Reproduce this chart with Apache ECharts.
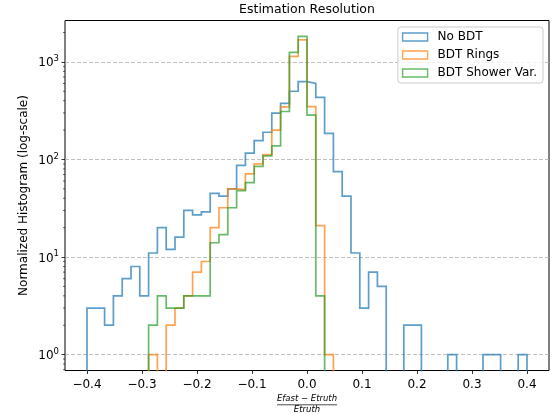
<!DOCTYPE html>
<html><head><meta charset="utf-8">
<script src="https://cdn.jsdelivr.net/npm/echarts@6/dist/echarts.min.js"></script>
<style>html,body{margin:0;padding:0;background:#fff}#c{width:554px;height:414px}</style>
</head><body><div id="c"></div>
<script>
// ---- data ----
const binRange = [-0.4, 0.4];
const binCount = 50;
const seriesNames = ['No BDT', 'BDT Rings', 'BDT Shower Var.'];
const noBDT = [3,3,2,4,6,8,4,11,20,12, 16,30,27,29,45,42,50,87,116,156, 190,298,375,500,627,600,432,185,75,42, 11,3,7,5,0,0,2,2,0,0, 0,1,0,0,0,1,1,0,0,1];
const bdtRings = [0,0,0,0,0,0,0,1,0,2, 3,4,7,9,20,32,50,49,71,90, 112,200,345,1140,1680,348,21,1,0,0, 0,0,0,0,0,0,0,0,0,0, 0,0,0,0,0,0,0,0,0,0];
const bdtShower = [0,0,0,0,0,0,0,2,4,3, 3,4,4,4,14,17,32,48,58,85, 109,138,310,1254,1825,284,4,0,0,0, 0,0,0,0,0,0,0,0,0,0, 0,0,0,0,0,0,0,0,0,0];
const xTickRange = [-0.4, 0.4];
const xTickStep = 0.1;
const yMajorRange = [1, 1000];
const yMinorTicks = [0.7,0.8,0.9, 2,3,4,5,6,7,8,9, 20,30,40,50,60,70,80,90, 200,300,400,500,600,700,800,900, 2000];
const titleText = 'Estimation Resolution';
const yLabel = 'Normalized Histogram (log-scale)';
const xLabelNum = 'Efast \u2212 Etruth';
const xLabelDen = 'Etruth';

// ---- layout ----
const W = 554, H = 414;
const G = {left: 65, right: 5, top: 20.5, bottom: 43.5};
const gw = W - G.left - G.right, gh = H - G.top - G.bottom;
const xMin = -0.44, xMax = 0.44;
const lyMin = -0.163, lyMax = 3.424;
const yMin = Math.pow(10, lyMin), yMax = Math.pow(10, lyMax);
const yPix = v => G.top + gh * (lyMax - Math.log10(v)) / (lyMax - lyMin);
const xPix = v => G.left + gw * (v - xMin) / (xMax - xMin);
const colors = ['rgba(31,119,180,0.72)', 'rgba(255,127,14,0.72)', 'rgba(44,160,44,0.72)'];
const FONT = 'DejaVu Sans';
const cx = G.left + gw / 2;

function stepPoints(vals) {
  const w = (binRange[1] - binRange[0]) / binCount;
  const floor = 1e-3;
  const pts = [[binRange[0], floor]];
  vals.forEach((v, i) => {
    const y = v > 0 ? v : floor;
    const x0 = binRange[0] + i * w, x1 = binRange[0] + (i + 1) * w;
    pts.push([x0, y], [x1, y]);
  });
  pts.push([binRange[1], floor]);
  return pts;
}

const histData = [noBDT, bdtRings, bdtShower];
const chart = echarts.init(document.getElementById('c'), null, {renderer: 'canvas'});
const fmtX = v => { const r = Math.round(v * 10) / 10; const s = Math.abs(r).toFixed(1); return r < 0 ? '\u2212' + s : s; };

const option = {
  animation: false,
  backgroundColor: '#fff',
  textStyle: {fontFamily: FONT},
  title: {text: titleText, left: cx, textAlign: 'center', top: 3, padding: 0,
    textStyle: {fontFamily: FONT, fontSize: 12.5, fontWeight: 'normal', color: '#000'}},
  legend: {
    orient: 'vertical', right: 11, top: 27,
    padding: [3, 6, 3, 4], itemGap: 4, itemWidth: 25, itemHeight: 8,
    backgroundColor: 'rgba(255,255,255,0.8)', borderColor: '#cccccc', borderWidth: 1, borderRadius: 3,
    textStyle: {fontFamily: FONT, fontSize: 12, color: '#000', lineHeight: 14, padding: [0, 0, 0, 5]},
    data: seriesNames.map((n, i) => ({name: n, icon: 'rect',
      itemStyle: {color: 'rgba(0,0,0,0)', borderColor: colors[i], borderWidth: 1.4}}))
  },
  grid: [
    {left: G.left, right: G.right, top: G.top, bottom: G.bottom, show: true, borderColor: '#000', borderWidth: 1, backgroundColor: 'rgba(0,0,0,0)', containLabel: false, outerBoundsMode: 'none'},
    {left: G.left, right: G.right, top: yPix(yMajorRange[1]), bottom: H - yPix(yMajorRange[0]), show: false, containLabel: false, outerBoundsMode: 'none'},
    {left: xPix(xTickRange[0]), right: W - xPix(xTickRange[1]), top: G.top, bottom: G.bottom, show: false, containLabel: false, outerBoundsMode: 'none'}
  ],
  xAxis: [
    {gridIndex: 0, type: 'value', min: xMin, max: xMax, show: false},
    {gridIndex: 1, type: 'value', min: 0, max: 1, show: false},
    {gridIndex: 2, type: 'value', min: xTickRange[0], max: xTickRange[1], interval: xTickStep,
      axisLine: {show: false}, splitLine: {show: false},
      axisTick: {show: true, inside: false, length: 3.5, lineStyle: {color: '#000', width: 0.8}},
      axisLabel: {show: true, margin: 8, formatter: fmtX, color: '#000', fontFamily: FONT, fontSize: 12,
        showMinLabel: true, showMaxLabel: true, hideOverlap: false}}
  ],
  yAxis: [
    {gridIndex: 0, type: 'log', logBase: 10, min: yMin, max: yMax,
      axisLine: {show: false}, axisTick: {show: false}, axisLabel: {show: false}, splitLine: {show: false},
      name: yLabel, nameLocation: 'middle', nameGap: 35, nameRotate: 90,
      nameTextStyle: {fontFamily: FONT, fontSize: 12, color: '#000'}},
    {gridIndex: 1, type: 'log', logBase: 10, min: yMajorRange[0], max: yMajorRange[1],
      axisLine: {show: false},
      axisTick: {show: true, inside: false, length: 3.5, lineStyle: {color: '#000', width: 0.8}},
      splitLine: {show: true, showMinLine: true, showMaxLine: true, lineStyle: {color: '#b0b0b0', width: 0.8, type: [4, 2]}},
      axisLabel: {show: true, margin: 6, color: '#000', showMinLabel: true, showMaxLabel: true, hideOverlap: false,
        formatter: v => '{b|10}{s|' + Math.round(Math.log10(v)) + '}',
        rich: {
          b: {fontFamily: FONT, fontSize: 12, color: '#000', lineHeight: 15, verticalAlign: 'bottom'},
          s: {fontFamily: FONT, fontSize: 8.5, color: '#000', lineHeight: 15, verticalAlign: 'top'}
        }}},
    {gridIndex: 2, type: 'value', min: 0, max: 1, show: false}
  ],
  series: [
    ...histData.map((vals, i) => ({
      name: seriesNames[i], type: 'line', xAxisIndex: 0, yAxisIndex: 0,
      data: stepPoints(vals), showSymbol: false, symbol: 'none', clip: true,
      lineStyle: {color: colors[i], width: 1.7, join: 'miter', cap: 'butt'},
      itemStyle: {color: colors[i]}, z: 3 + i, emphasis: {disabled: true}
    })),
    {
      type: 'custom', name: 'minorTicks', xAxisIndex: 0, yAxisIndex: 0, clip: false, silent: true, z: 10,
      data: yMinorTicks.filter(v => v >= yMin && v <= yMax).map(v => [xMin, v]),
      renderItem: (params, api) => {
        const p = api.coord([api.value(0), api.value(1)]);
        return {type: 'line', shape: {x1: p[0] - 2, y1: p[1], x2: p[0], y2: p[1]}, style: {stroke: '#000', lineWidth: 0.6}};
      }
    }
  ],
  graphic: [
    {type: 'text', x: cx, y: 403.5, silent: true,
      style: {text: xLabelNum, font: 'italic 8.5px "DejaVu Sans"', fill: '#000', align: 'center', verticalAlign: 'bottom'}},
    {type: 'line', silent: true, shape: {x1: cx - 30, y1: 404.8, x2: cx + 30, y2: 404.8}, style: {stroke: '#000', lineWidth: 0.7}},
    {type: 'text', x: cx, y: 405.5, silent: true,
      style: {text: xLabelDen, font: 'italic 8.5px "DejaVu Sans"', fill: '#000', align: 'center', verticalAlign: 'top'}}
  ]
};
chart.setOption(option);
</script></body></html>
